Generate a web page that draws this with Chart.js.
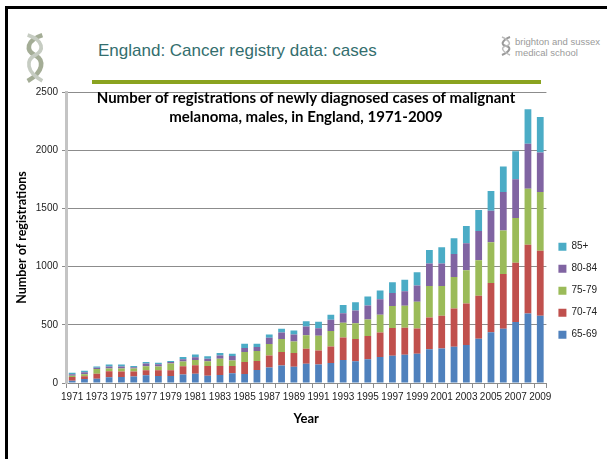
<!DOCTYPE html>
<html>
  <head>
    <script src="https://cdn.jsdelivr.net/npm/chart.js@4.4.0/dist/chart.umd.min.js"></script>
    <style>
      body { margin: 0; width: 607px; height: 459px; overflow: hidden; background: #fff; position: relative; font-family: "Liberation Sans", Arial, sans-serif; }
      .frame { position: absolute; left: 5px; top: 6px; width: 620px; height: 470px; border-top: 3px solid #000; border-left: 3px solid #000; }
      .head { position: absolute; left: 98px; top: 41px; font-size: 17px; color: #336e6e; white-space: nowrap; }
      .rule { position: absolute; left: 92px; top: 80px; width: 449px; height: 4px; background: #8aa320; }
      .bsms { position: absolute; left: 515px; top: 36px; font-size: 9.5px; line-height: 11px; color: #9a9a9a; }
      .bsmsicon { position: absolute; left: 500px; top: 36px; }
      .logo { position: absolute; left: 24px; top: 32px; }
      #wrap { position: absolute; left: 0; top: 82px; width: 607px; height: 377px; }
    </style>
  </head>

  <body>
    <div class="frame"></div>
    <svg class="logo" width="22" height="52" viewBox="0 0 24 54">
      <path d="M20 2 C2 8 2 19 12 24 C22 29 22 42 4 52" stroke="#a4ad96" stroke-width="5" fill="none"/>
      <path d="M4 2 C22 8 22 19 12 24 C2 29 2 42 20 52" stroke="#c6ccc2" stroke-width="4" fill="none"/>
    </svg>
    <div class="head">England: Cancer registry data: cases</div>
    <svg class="bsmsicon" width="12" height="20" viewBox="0 0 12 20">
      <path d="M10 1 C1 5 1 9 6 10 C11 11 11 15 2 19" stroke="#999" stroke-width="2" fill="none"/>
      <path d="M2 1 C11 5 11 9 6 10 C1 11 1 15 10 19" stroke="#bbb" stroke-width="1.5" fill="none"/>
    </svg>
    <div class="bsms">brighton and sussex<br>medical school</div>
    <div id="wrap"><canvas id="canvas"></canvas></div>
    <div class="rule"></div>

    <script>
      const years = ['1971', '1972', '1973', '1974', '1975', '1976', '1977', '1978', '1979', '1980',
        '1981', '1982', '1983', '1984', '1985', '1986', '1987', '1988', '1989', '1990',
        '1991', '1992', '1993', '1994', '1995', '1996', '1997', '1998', '1999', '2000',
        '2001', '2002', '2003', '2004', '2005', '2006', '2007', '2008', '2009'];

      // registrations per age band
      const age6569 = [20, 34, 37, 49, 52, 55, 66, 60, 60, 72, 80, 63, 69, 83, 77, 111, 134, 151, 140, 166,
        160, 171, 197, 186, 203, 223, 234, 243, 251, 291, 297, 311, 326, 380, 437, 466, 523, 598, 578];
      const age7074 = [32, 23, 43, 52, 46, 43, 43, 49, 49, 72, 72, 83, 77, 63, 103, 78, 103, 115, 117, 128,
        120, 143, 194, 191, 200, 211, 238, 231, 218, 272, 280, 329, 357, 369, 423, 471, 511, 589, 559];
      const age7579 = [11, 18, 41, 23, 26, 26, 35, 32, 58, 40, 46, 40, 63, 48, 86, 85, 97, 111, 100, 117,
        126, 132, 126, 137, 143, 152, 190, 189, 228, 271, 257, 271, 286, 305, 349, 374, 383, 482, 503];
      const age8084 = [12, 17, 11, 17, 17, 11, 23, 20, 14, 20, 23, 23, 28, 37, 34, 35, 55, 57, 60, 75,
        65, 97, 83, 109, 120, 134, 112, 126, 140, 192, 192, 198, 231, 252, 271, 329, 334, 386, 340];
      const age85 = [14, 14, 9, 17, 17, 12, 14, 14, 9, 20, 23, 20, 20, 20, 37, 28, 28, 32, 34, 45,
        55, 43, 71, 71, 77, 74, 92, 97, 114, 117, 140, 134, 149, 180, 169, 220, 240, 297, 306];

      const yTicks = [0, 500, 1000, 1500, 2000, 2500];

      const chartTitle = {
        id: 'chartTitle',
        afterDraw(chart) {
          const ctx = chart.ctx;
          ctx.save();
          ctx.font = 'bold 15px Lato, sans-serif';
          ctx.fillStyle = '#000';
          ctx.textAlign = 'center';
          ctx.textBaseline = 'middle';
          ctx.fillText('Number of registrations of newly diagnosed cases of malignant', 306, 16);
          ctx.fillText('melanoma, males, in England, 1971-2009', 306, 35);
          ctx.restore();
        },
      };

      const gridGrey = '#8c8c8c';

      new Chart(document.getElementById('canvas').getContext('2d'), {
        type: 'bar',
        data: {
          labels: years,
          datasets: [
            { label: '65-69', data: age6569, backgroundColor: '#4f81bd' },
            { label: '70-74', data: age7074, backgroundColor: '#c0504d' },
            { label: '75-79', data: age7579, backgroundColor: '#9bbb59' },
            { label: '80-84', data: age8084, backgroundColor: '#8064a2' },
            { label: '85+', data: age85, backgroundColor: '#4bacc6' },
          ],
        },
        options: {
          responsive: true,
          maintainAspectRatio: false,
          animation: false,
          layout: { padding: { left: 14, top: 0, right: 0, bottom: 0 } },
          datasets: { bar: { categoryPercentage: 1, barPercentage: 0.55 } },
          scales: {
            x: {
              stacked: true,
              afterFit(scale) { scale.height = 76; },
              grid: { display: true, drawOnChartArea: false, offset: true, color: gridGrey, tickLength: 5 },
              border: { color: gridGrey },
              ticks: {
                autoSkip: false,
                maxRotation: 0,
                color: '#222',
                font: { family: 'Liberation Sans', size: 10 },
                padding: 3,
                callback(v, i) { return i % 2 === 0 ? years[i] : ''; },
              },
              title: { display: true, text: 'Year', color: '#000', font: { family: 'Lato', weight: 'bold', size: 13 }, padding: { top: 0, bottom: 32 } },
            },
            y: {
              stacked: true,
              min: 0,
              max: 2500,
              afterFit(scale) { scale.width = 52; },
              afterBuildTicks(scale) { scale.ticks = yTicks.map((v) => ({ value: v })); },
              grid: { color: gridGrey, tickLength: 4 },
              border: { color: '#c4c4c4', width: 3 },
              ticks: { color: '#222', font: { family: 'Liberation Sans', size: 10 }, padding: 4, callback: (v) => String(v) },
              title: { display: true, text: 'Number of registrations', color: '#000', font: { family: 'Lato', weight: 'bold', size: 12.5 }, padding: 0 },
            },
          },
          plugins: {
            legend: {
              position: 'right',
              reverse: true,
              title: { display: true, text: ' ', padding: 13 },
              labels: { boxWidth: 8, boxHeight: 8, padding: 12, color: '#222', font: { family: 'Liberation Sans', size: 10 } },
            },
            tooltip: { enabled: false },
          },
        },
        plugins: [chartTitle],
      });
    </script>
  </body>
</html>
